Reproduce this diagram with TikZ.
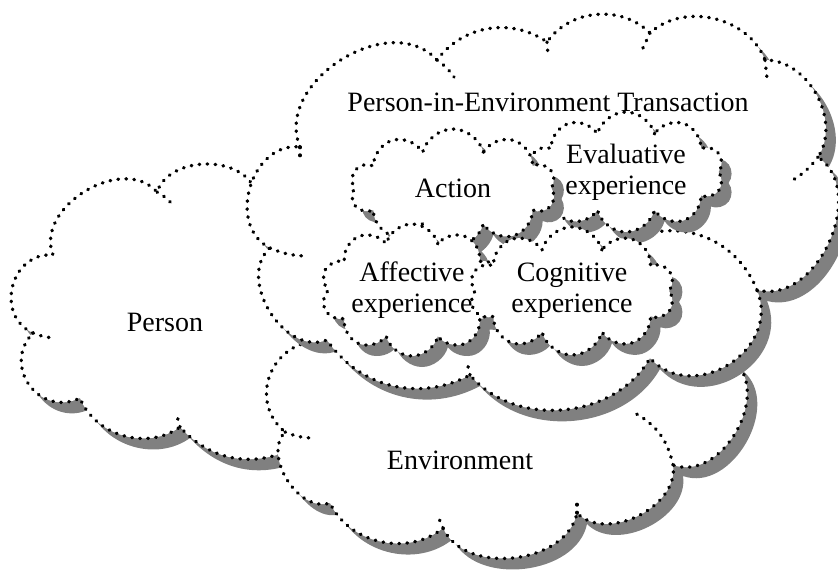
\documentclass[tikz,border=0pt]{standalone}
\usepackage{fontspec}
\setmainfont{Liberation Serif}
\usetikzlibrary{shapes.symbols,shadows}

\tikzstyle{crease}=[draw=black,line width=3.4pt,line cap=round,
  			  dash pattern=on 0.6pt off 7.4pt]
\tikzstyle{puffline}=[crease,fill=white,
  			  drop shadow={shadow xshift=10pt,shadow yshift=-11pt,
  			  fill=black!50,opacity=1}]
\tikzstyle{bubble}=[cloud,cloud ignores aspect,cloud puffs=10,puffline,
  			  align=center,inner sep=0pt]
\tikzstyle{caption}=[align=center,inner sep=0pt]

\begin{document}
\begin{tikzpicture}[x=1pt,y=-1pt,font=\fontsize{28}{31}\selectfont]
  \useasboundingbox (0,0) rectangle (838,571);

	% person
	\path[puffline] (33,333) to[bend left=80,looseness=1.35] (53,255)
	  to[bend left=80,looseness=1.08] (157,192)
	  to[bend left=70] (255,190)
	  -- (300,260) -- (345,358) -- (300,420) -- (290,450)
	  to[bend left=36] (180,427)
	  to[bend left=52] (80,398)
	  to[bend left=80,looseness=1.45] (33,333) -- cycle;
	\draw[crease] (157,192) to[bend left=10] (172,204);
	\draw[crease] (33,333) to[bend right=10] (56,338);
	\draw[crease] (180,427) -- (176,412);

	% environment
	\path[puffline] (335,345) to[bend left=50] (480,333)
	  to[bend left=50] (640,338)
	  to[bend left=50] (733,360)
	  to[bend left=80,looseness=1.1] (673,465)
	  to[bend left=72] (577,513)
	  to[bend left=72] (443,528)
	  to[bend left=52] (330,503)
	  to[bend left=76] (285,432)
	  to[bend left=80,looseness=1.45] (335,345) -- cycle;
	\draw[crease] (285,432) to[bend right=10] (312,438);
	\draw[crease] (443,528) -- (437,514);
	\draw[crease] (577,513) -- (577,503);
	\draw[crease] (673,465) to[bend right=25] (633,412);

	% person-in-environment transaction
	\path[puffline] (300,147) to[bend left=80,looseness=1.1] (437,60)
	  to[bend left=44] (547,42)
	  to[bend left=50] (650,33)
	  to[bend left=56] (765,60)
	  to[bend left=62] (818,157)
	  to[bend left=80,looseness=1.08] (757,290)
	  to[bend left=80,looseness=1.3] (650,358)
	  to[bend left=55] (470,375)
	  to[bend left=42] (327,340)
	  to[bend left=80,looseness=1.08] (270,248)
	  to[bend left=80,looseness=1.2] (300,147) -- cycle;
	\draw[crease] (300,147) -- (300,160);
	\draw[crease] (437,60) to[bend left=10] (454,77);
	\draw[crease] (547,42) -- (548,55);
	\draw[crease] (650,33) -- (642,50);
	\draw[crease] (765,60) -- (767,78);
	\draw[crease] (818,157) to[bend left=10] (793,180);
	\draw[crease] (757,290) to[bend right=40] (650,233);
	\draw[crease] (470,375) -- (467,362);
	\draw[crease] (270,248) to[bend right=10] (304,256);

	\node[caption] (person-txt) at (165,322) {Person};
	\node[caption] (env-txt) at (460,460) {Environment};
	\node[caption] (pie-txt) at (548,102) {Person-in-Environment Transaction};

	% small clouds inside the transaction
	\node[bubble,minimum width=195pt,minimum height=120pt]
	  (eval) at (626,172) {Evaluative\\experience};
	\node[bubble,minimum width=205pt,minimum height=118pt]
	  (act) at (453,188) {Action};
	\node[bubble,minimum width=180pt,minimum height=132pt]
	  (aff) at (412,290) {Affective\\experience};
	\node[bubble,minimum width=205pt,minimum height=128pt]
	  (cog) at (572,291) {Cognitive\\experience};
\end{tikzpicture}
\end{document}
